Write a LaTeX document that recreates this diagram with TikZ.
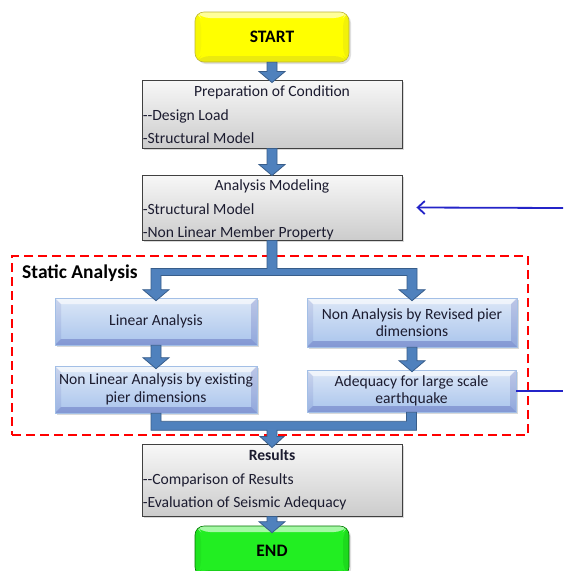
\documentclass[tikz,border=0pt]{standalone}
\usepackage{fontspec}
\setmainfont{Carlito}
\usetikzlibrary{calc,shadows,arrows.meta}

\definecolor{arrowfill}{HTML}{4F81BD}
\definecolor{arrowedge}{HTML}{385D8A}
\definecolor{boxedge}{HTML}{404040}
\definecolor{blueedge}{HTML}{A3BFE6}
\definecolor{bluetop}{HTML}{DCE7F7}
\definecolor{bluebot}{HTML}{A9C4EC}
\definecolor{linkblue}{HTML}{2424C8}
\definecolor{txt}{HTML}{1C1C30}
\definecolor{startyellow}{HTML}{FFFF00}
\definecolor{endgreen}{HTML}{22EE22}

\tikzset{
  bodyfont/.style={font=\fontsize{15.6}{17.5}\selectfont, text=txt},
  bevel/.style={path picture={
      \fill[white,opacity=0.6] (path picture bounding box.north west) -- (path picture bounding box.north east)
        -- ++(-6pt,-6pt) -- ($(path picture bounding box.north west)+(6pt,-6pt)$) -- cycle;
      \fill[#1,opacity=0.22] (path picture bounding box.south west) -- (path picture bounding box.south east)
        -- ++(-6pt,6pt) -- ($(path picture bounding box.south west)+(6pt,6pt)$) -- cycle;
      \fill[#1,opacity=0.08] (path picture bounding box.north west) -- (path picture bounding box.south west)
        -- ++(6pt,6pt) -- ($(path picture bounding box.north west)+(6pt,-6pt)$) -- cycle;
      \fill[#1,opacity=0.14] (path picture bounding box.north east) -- (path picture bounding box.south east)
        -- ++(-6pt,6pt) -- ($(path picture bounding box.north east)+(-6pt,-6pt)$) -- cycle;
    }},
  graybox/.style={rectangle, draw=boxedge, line width=0.9pt, top color=gray!6, bottom color=gray!40,
    minimum width=260pt, inner sep=0pt,
    drop shadow={shadow xshift=2pt, shadow yshift=-2pt, opacity=0.3}},
  bluebox/.style={rectangle, draw=blueedge, line width=0.6pt, top color=bluetop, bottom color=bluebot,
    bevel=blue!50!black, align=center, bodyfont, inner sep=0pt,
    drop shadow={shadow xshift=2pt, shadow yshift=-2pt, opacity=0.3}},
  terminal/.style={rectangle, rounded corners=9pt, minimum width=154pt, minimum height=50pt,
    font=\bfseries\fontsize{17.5}{20}\selectfont, text=black,
    drop shadow={shadow xshift=2pt, shadow yshift=-2pt, opacity=0.25}},
  boxtitle/.style={bodyfont, inner sep=0pt, anchor=mid},
  boxline/.style={bodyfont, inner sep=0pt, anchor=mid west},
  fatarrow/.style={fill=arrowfill, draw=arrowedge, line width=0.8pt, line join=miter},
  frame/.style={draw=red, line width=2.2pt, dash pattern=on 9pt off 5pt},
  link/.style={draw=linkblue, line width=1.8pt},
}

% straight block arrow pointing down: #1 start point, #2 tip point
\newcommand\blockdown[2]{%
  \path let \p1=(#1), \p2=(#2) in
    [fatarrow] ({\x1-5pt},\y1) -- ({\x1-5pt},{\y2+11pt}) -- ({\x1-13pt},{\y2+11pt}) -- (\x1,\y2)
    -- ({\x1+13pt},{\y2+11pt}) -- ({\x1+5pt},{\y2+11pt}) -- ({\x1+5pt},\y1) -- cycle;}

\begin{document}
\begin{tikzpicture}[x=1pt,y=1pt]
\useasboundingbox (0,0) rectangle (563,-571);

% dashed frame around the static analysis stage
\node[frame, minimum width=516pt, minimum height=179pt, inner sep=0pt] (stage) at (270,-345.5) {};
\node[anchor=west, inner sep=0pt, font=\bfseries\fontsize{19.5}{22}\selectfont, text=black] (stagelabel)
  at (22,-273) {Static Analysis};

% terminals
\node[terminal, fill=startyellow, draw=yellow!70!black, line width=0.6pt, bevel=yellow!60!black] (start) at (272,-37) {START};
\node[terminal, fill=endgreen, draw=green!45!black, line width=0.6pt, bevel=green!40!black] (finish) at (272,-551) {END};

% gray process boxes
\node[graybox, minimum height=68pt] (prep) at (272,-114) {};
\node[boxtitle] (preptitle) at ($(prep.north)+(0,-15pt)$) {Preparation of Condition};
\node[boxline] (prepa) at ($(prep.north west)+(1pt,-39pt)$) {-{}-Design Load};
\node[boxline] (prepb) at ($(prep.north west)+(1pt,-62pt)$) {-Structural Model};

\node[graybox, minimum height=65pt] (ana) at (272,-207.5) {};
\node[boxtitle] (anatitle) at ($(ana.north)+(0,-14pt)$) {Analysis Modeling};
\node[boxline] (anaa) at ($(ana.north west)+(1pt,-38pt)$) {-Structural Model};
\node[boxline] (anab) at ($(ana.north west)+(1pt,-61pt)$) {-Non Linear Member Property};

\node[graybox, minimum height=72pt] (res) at (272,-480) {};
\node[boxtitle, font=\bfseries\fontsize{15.6}{17.5}\selectfont] (restitle) at ($(res.north)+(0,-15pt)$) {Results};
\node[boxline] (resa) at ($(res.north west)+(1pt,-39pt)$) {-{}-Comparison of Results};
\node[boxline] (resb) at ($(res.north west)+(1pt,-62pt)$) {-Evaluation of Seismic Adequacy};

% blue analysis boxes
\node[bluebox, minimum width=202pt, minimum height=47pt] (lin) at (156,-321.5) {Linear Analysis};
\node[bluebox, minimum width=210pt, minimum height=49pt] (rev) at (412,-322.5) {Non Analysis by Revised pier\\dimensions};
\node[bluebox, minimum width=202pt, minimum height=47pt] (nle) at (156,-389.5) {Non Linear Analysis by existing\\pier dimensions};
\node[bluebox, minimum width=209pt, minimum height=42pt] (adq) at (411.5,-391) {Adequacy for large scale\\earthquake};

% block arrows
\blockdown{start.south}{$(prep.north)+(0,-3pt)$}
\blockdown{prep.south}{$(ana.north)+(0,-1pt)$}
\blockdown{lin.south}{$(nle.north)+(0,-3pt)$}
\blockdown{rev.south}{$(adq.north)+(0,-2pt)$}
\blockdown{res.south}{$(finish.north)+(0,-7pt)$}

% split from the model into the two analysis paths
\path let \p1=(ana.south), \p2=(lin.north), \p3=(rev.north) in
  [fatarrow] ({\x1-5pt},\y1) -- ({\x1-5pt},{\y1-28pt}) -- ({\x2-5pt},{\y1-28pt})
  -- ({\x2-5pt},{\y2+8pt}) -- ({\x2-13pt},{\y2+8pt}) -- (\x2,{\y2-3pt}) -- ({\x2+13pt},{\y2+8pt})
  -- ({\x2+5pt},{\y2+8pt}) -- ({\x2+5pt},{\y1-35pt}) -- ({\x3-5pt},{\y1-35pt})
  -- ({\x3-5pt},{\y2+8pt}) -- ({\x3-13pt},{\y2+8pt}) -- (\x3,{\y2-3pt}) -- ({\x3+13pt},{\y2+8pt})
  -- ({\x3+5pt},{\y2+8pt}) -- ({\x3+5pt},{\y1-28pt}) -- ({\x1+5pt},{\y1-28pt}) -- ({\x1+5pt},\y1) -- cycle;

% merge of the two paths into the results
\path let \p1=(nle.south), \p2=(adq.south), \p3=(res.north) in
  [fatarrow] ({\x1-5pt},\y1) -- ({\x1-5pt},{\y1-17pt}) -- ({\x3-5pt},{\y1-17pt})
  -- ({\x3-5pt},{\y3+7pt}) -- ({\x3-12pt},{\y3+7pt}) -- (\x3,{\y3-4pt}) -- ({\x3+12pt},{\y3+7pt})
  -- ({\x3+5pt},{\y3+7pt}) -- ({\x3+5pt},{\y1-17pt}) -- ({\x2+5pt},{\y1-17pt})
  -- ({\x2+5pt},\y2) -- ({\x2-5pt},\y2) -- ({\x2-5pt},{\y1-8pt}) -- ({\x1+5pt},{\y1-8pt})
  -- ({\x1+5pt},\y1) -- cycle;

% feedback link leaving the picture on the right
\coordinate (backin) at (563,-208);
\coordinate (backout) at (563,-391);
\draw[link, -{Straight Barb[length=7pt,width=13pt]}] (backin) -- ($(ana.east)+(14pt,0)$);
\draw[link] (adq.east) -- (backout);
\end{tikzpicture}
\end{document}
